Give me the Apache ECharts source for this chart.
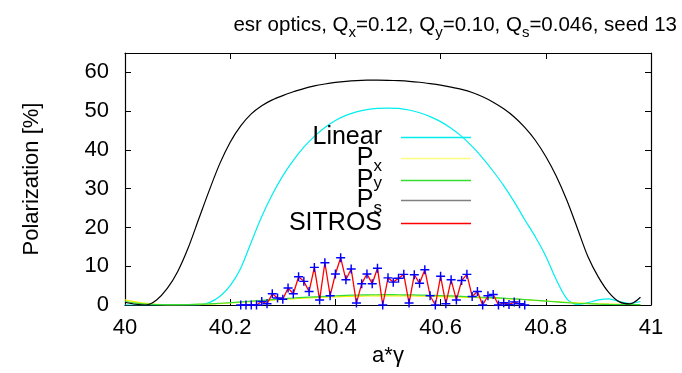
<!DOCTYPE html>
<html><head><meta charset="utf-8">
<script src="https://cdn.jsdelivr.net/npm/echarts@6/dist/echarts.min.js"></script>
<style>html,body{margin:0;padding:0;background:#fff}#c{width:682px;height:373px}</style>
</head><body><div id="c"></div>
<script>
// ---- data ----
const xGrid = [40.00,40.02,40.04,40.06,40.08,40.10,40.12,40.14,40.16,40.18,
  40.20,40.22,40.24,40.26,40.28,40.30,40.32,40.34,40.36,40.38,
  40.40,40.42,40.44,40.46,40.48,40.50,40.52,40.54,40.56,40.58,
  40.60,40.62,40.64,40.66,40.68,40.70,40.72,40.74,40.76,40.78,
  40.80,40.82,40.84,40.86,40.88,40.90,40.92,40.94,40.96,40.98];
const linear = [0,0,0,0,0,0,0,0.05,0.6,2.2,
  5.0,9.5,16.2,22.8,28.5,33.3,37.3,40.7,43.5,45.8,
  47.6,48.9,49.8,50.4,50.7,50.8,50.7,50.3,49.6,48.6,
  47.3,45.6,43.5,40.9,37.9,34.5,30.8,26.6,22.0,17.6,
  12.6,6.5,1.6,0.1,0.6,1.3,1.6,0.9,0.4,0.9];
const px = [1.3,0.8,0.4,0.15,0.05,0.05,0.08,0.15,0.25,0.38,
  0.52,0.7,0.88,1.06,1.24,1.42,1.6,1.74,1.88,2.0,
  2.12,2.21,2.28,2.33,2.36,2.37,2.36,2.34,2.3,2.24,
  2.17,2.1,2.02,1.93,1.83,1.73,1.62,1.5,1.36,1.2,
  1.03,0.86,0.7,0.55,0.42,0.32,0.24,0.18,0.14,0.12];
const py = [0.9,0.5,0.25,0.12,0.08,0.08,0.12,0.2,0.3,0.45,
  0.6,0.8,1.0,1.2,1.4,1.6,1.8,1.95,2.1,2.25,
  2.38,2.48,2.56,2.62,2.65,2.66,2.65,2.62,2.57,2.5,
  2.42,2.33,2.23,2.12,2.0,1.88,1.75,1.6,1.42,1.22,
  1.0,0.8,0.6,0.45,0.32,0.22,0.15,0.1,0.08,0.08];
const ps = [0.7,0.2,0.0,1.3,4.2,8.6,14.7,22.1,29.5,36.4,
  42.0,46.2,49.3,51.4,52.9,54.0,55.0,55.8,56.5,57.0,
  57.4,57.7,57.9,58.0,58.0,57.95,57.85,57.7,57.45,57.1,
  56.7,56.2,55.6,54.8,53.7,52.3,50.6,48.5,45.8,42.5,
  38.3,33.2,27.0,19.8,12.5,7.2,3.2,0.8,0.3,2.0];
const sitrosX = [40.22,40.23,40.24,40.25,40.26,40.27,40.28,40.29,40.30,40.31,
  40.32,40.33,40.34,40.35,40.36,40.37,40.38,40.39,40.40,40.41,
  40.42,40.43,40.44,40.45,40.46,40.47,40.48,40.49,40.50,40.51,
  40.52,40.53,40.54,40.55,40.56,40.57,40.58,40.59,40.60,40.61,
  40.62,40.63,40.64,40.65,40.66,40.67,40.68,40.69,40.70,40.71,
  40.72,40.73,40.74,40.75,40.76];
const sitrosY = [0,0,0,0,0.9,0.3,2.9,1.8,1.5,4.4,
  2.9,7.3,6.1,3.5,9.7,1.3,10.9,2.4,8.0,12.2,
  6.5,9.3,0.5,5.5,8.0,5.5,9.5,0,7.0,5.9,
  6.9,7.9,0.5,7.8,5.6,9.1,2.4,0,7.4,0.3,
  6.5,1.3,6.3,7.9,2.2,3.5,0,2.4,2.7,0,
  0.6,0.1,0.8,0.3,0];
const seriesNames = ['Linear','Px','Py','Ps','SITROS'];
const legendLabels = ['Linear','P{sub|x}','P{suby|y}','P{sub|s}','SITROS'];
const xTicks = {min:40, max:41, step:0.2};
const yTicks = {min:0, max:65, step:10};
const titleText = 'esr optics, Q{sub|x}=0.12, Q{sub|y}=0.10, Q{sub|s}=0.046, seed 13';

// ---- styles ----
const FONT = 'Liberation Sans, Arial, Helvetica, sans-serif';
const lineColors = ['#00eeee','#f2f200','#33dd33','#000000','#ff0000'];
const legendColors = ['#00eeee','#ffff80','#33dd33','#808080','#ff0000'];
const pair = (xs, ys) => ys.map((v,i)=>[xs[i], v]);

const chart = echarts.init(document.getElementById('c'), null, {renderer:'canvas'});
const axisCommon = {
  type:'value', min:xTicks.min, max:xTicks.max, interval:xTicks.step,
  axisLine:{show:true, onZero:false, lineStyle:{color:'#000', width:1.2}},
  axisTick:{show:true, inside:true, length:6, lineStyle:{color:'#000', width:1}},
  splitLine:{show:false}
};
const yCommon = {
  type:'value', min:yTicks.min, max:yTicks.max, interval:yTicks.step,
  axisLine:{show:true, onZero:false, lineStyle:{color:'#000', width:1.2}},
  axisTick:{show:true, inside:true, length:6, lineStyle:{color:'#000', width:1}},
  splitLine:{show:false}
};
const legendTops = [125, 146, 168, 188, 211];
const legends = seriesNames.map((n,i)=>({
  data:[{name:n, itemStyle:{color:legendColors[i]}}],
  orient:'vertical', right:211, top:legendTops[i], padding:0,
  icon:'rect', itemWidth:70, itemHeight:1.6, align:'right', selectedMode:false,
  formatter:()=>legendLabels[i],
  textStyle:{fontFamily:FONT, fontSize:25, color:'#000', padding:[0,14,0,0],
    rich:{
      sub:{fontFamily:FONT, fontSize:17, color:'#000', padding:[16,0,0,0]},
      suby:{fontFamily:FONT, fontSize:17, color:'#000', padding:[6,0,0,0]}
    }}
}));

const lineSeries = [linear, px, py, ps].map((arr,i)=>({
  name:seriesNames[i], type:'line', data:pair(xGrid, arr), showSymbol:false,
  smooth:0.3, lineStyle:{color:lineColors[i], width:1.2}, itemStyle:{color:lineColors[i]},
  animation:false, silent:true
}));
lineSeries.push({
  name:'SITROS', type:'line', data:pair(sitrosX, sitrosY),
  symbol:'path://M42,0h16v100h-16zM0,42h100v16h-100z', symbolSize:9, showSymbol:true,
  lineStyle:{color:'#ff0000', width:1.3}, itemStyle:{color:'#0000ff'},
  animation:false, silent:true
});

chart.setOption({
  animation:false,
  backgroundColor:'#fff',
  title:{text:titleText, right:0, top:6,
    textStyle:{fontFamily:FONT, fontSize:20.5, fontWeight:'normal', color:'#000',
      rich:{sub:{fontFamily:FONT, fontSize:15, color:'#000', padding:[14,0,0,0]}}}},
  legend:legends,
  grid:{left:125, right:31, top:53, bottom:68, containLabel:false, outerBoundsMode:'none'},
  xAxis:[
    Object.assign({}, axisCommon, {position:'bottom',
      name:'a*γ', nameLocation:'middle', nameGap:40,
      nameTextStyle:{fontFamily:FONT, fontSize:22, color:'#000'},
      axisLabel:{show:true, margin:12, fontFamily:FONT, fontSize:22, color:'#000',
        formatter:v=>String(Math.round(v*10)/10)}}),
    Object.assign({}, axisCommon, {position:'top', axisLabel:{show:false}})
  ],
  yAxis:[
    Object.assign({}, yCommon, {position:'left',
      name:'Polarization [%]', nameLocation:'middle', nameGap:82, nameRotate:90,
      nameTextStyle:{fontFamily:FONT, fontSize:22, color:'#000'},
      axisLabel:{show:true, margin:16, fontFamily:FONT, fontSize:22, color:'#000',
        formatter:v=>(Math.round(v)%10===0 ? String(Math.round(v)) : '')}}),
    Object.assign({}, yCommon, {position:'right', axisLabel:{show:false}})
  ],
  series:lineSeries
});
</script></body></html>
